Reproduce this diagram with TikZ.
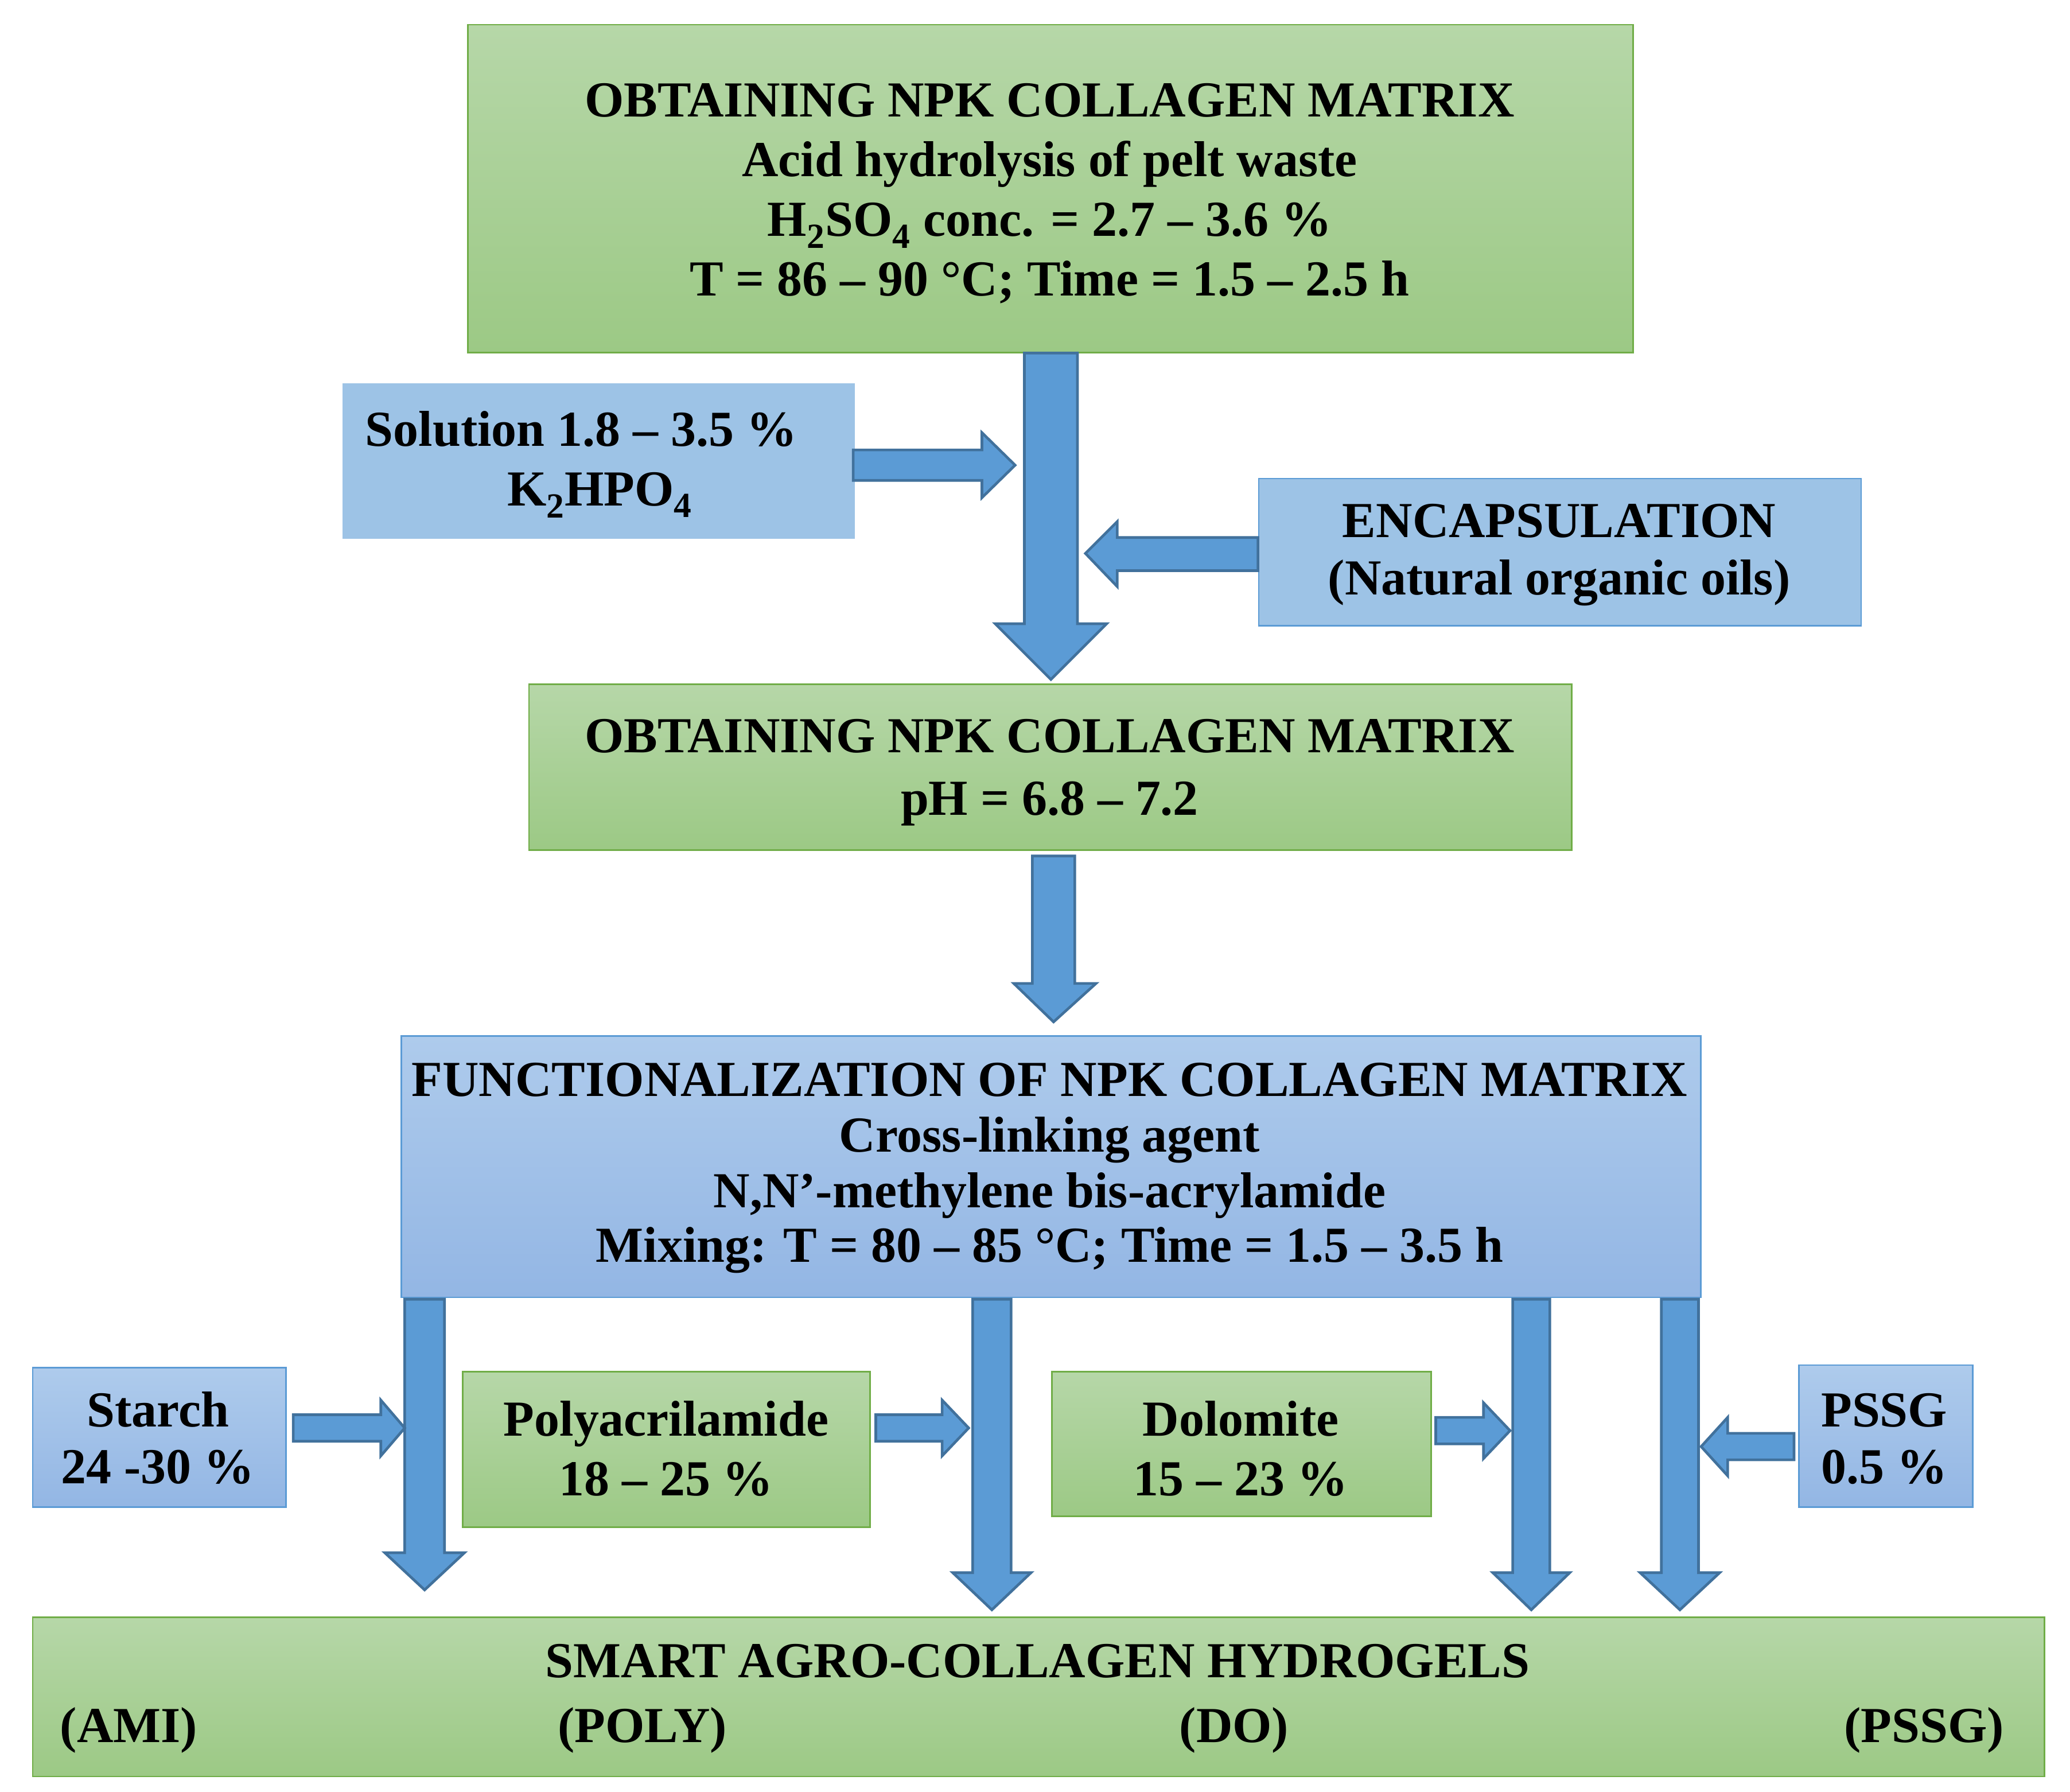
\documentclass[tikz,border=0pt]{standalone}
\usepackage{fontspec}
\setmainfont{Liberation Serif}
\begin{document}
\begin{tikzpicture}[x=1pt,y=-1pt,
 gbox/.style={draw=gbord, line width=1.2pt, top color=gtop, bottom color=gbot, inner sep=0pt},
 bbox/.style={draw=bbord, line width=1.2pt, top color=btop, bottom color=bbot, inner sep=0pt},
 lbox/.style={draw=bbord, line width=1.2pt, fill=lblue, inner sep=0pt},
 txt/.style={font=\fontsize{38}{44}\selectfont\bfseries, inner sep=0pt, anchor=base},
 arr/.style={fill=afill, draw=abord, line width=2pt, line join=miter}]
\definecolor{gbord}{HTML}{70AD47}
\definecolor{gtop}{HTML}{B6D7A8}
\definecolor{gbot}{HTML}{9CC985}
\definecolor{bbord}{HTML}{5B9BD5}
\definecolor{btop}{HTML}{AECBEC}
\definecolor{bbot}{HTML}{93B6E4}
\definecolor{lblue}{HTML}{9DC3E6}
\definecolor{afill}{HTML}{5B9BD5}
\definecolor{abord}{HTML}{41719C}
\useasboundingbox (0,0) rectangle (1560,1350);
\newcommand\downarr[7]{\draw[arr] (#1,#3)--(#2,#3)--(#2,#4)--(#6,#4)--({(#1+#2)/2},#7)--(#5,#4)--(#1,#4)--cycle;}
\newcommand\rightarr[7]{\draw[arr] (#1,#4)--(#2,#4)--(#2,#6)--(#3,{(#4+#5)/2})--(#2,#7)--(#2,#5)--(#1,#5)--cycle;}

\node[gbox, minimum width=878, minimum height=247, anchor=north west] (b1) at (352,18) {};
\node[txt] (t1a) at (791,88) {OBTAINING NPK COLLAGEN MATRIX};
\node[txt] (t1b) at (791,133) {Acid hydrolysis of pelt waste};
\node[txt] (t1c) at (791,178) {H\textsubscript{2}SO\textsubscript{4} conc. = 2.7 – 3.6 \%};
\node[txt] (t1d) at (791,223) {T = 86 – 90 °C; Time = 1.5 – 2.5 h};

\downarr{772}{812}{266}{470}{750}{834}{512}

\node[lbox, draw=lblue, minimum width=385, minimum height=116, anchor=north west] (sol) at (258,289) {};
\node[txt] (ts1) at (438,336) {Solution 1.8 – 3.5 \%};
\node[txt] (ts2) at (452,381) {K\textsubscript{2}HPO\textsubscript{4}};
\rightarr{643}{740}{765}{339}{362}{326}{375}

\node[lbox, minimum width=454, minimum height=111, anchor=north west] (enc) at (948,360) {};
\node[txt] (te1) at (1175,405) {ENCAPSULATION};
\node[txt] (te2) at (1175,448) {(Natural organic oils)};
\draw[arr] (948,405)--(842,405)--(842,393)--(818,417)--(842,442)--(842,430)--(948,430)--cycle;

\node[gbox, minimum width=786, minimum height=125, anchor=north west] (b2) at (398,515) {};
\node[txt] (t2a) at (791,567) {OBTAINING NPK COLLAGEN MATRIX};
\node[txt] (t2b) at (791,614) {pH = 6.8 – 7.2};
\downarr{778}{810}{645}{741}{764}{826}{770}

\node[bbox, minimum width=979, minimum height=197, anchor=north west] (b3) at (302,780) {};
\node[txt] (t3a) at (791,826) {FUNCTIONALIZATION OF NPK COLLAGEN MATRIX};
\node[txt] (t3b) at (791,868) {Cross-linking agent};
\node[txt] (t3c) at (791,910) {N,N’-methylene bis-acrylamide};
\node[txt] (t3d) at (791,951) {Mixing: T = 80 – 85 °C; Time = 1.5 – 3.5 h};

\downarr{305}{335}{979}{1170}{290}{350}{1198}
\downarr{733}{762}{979}{1185}{718}{777}{1213}
\downarr{1140}{1168}{979}{1185}{1125}{1183}{1213}
\downarr{1252}{1280}{979}{1185}{1236}{1296}{1213}

\node[bbox, minimum width=191, minimum height=105, anchor=north west] (st) at (24,1030) {};
\node[txt] (tst1) at (119,1075) {Starch};
\node[txt] (tst2) at (119,1118) {24 -30 \%};
\rightarr{221}{287}{305}{1066}{1086}{1055}{1097}

\node[gbox, minimum width=307, minimum height=117, anchor=north west] (po) at (348,1033) {};
\node[txt] (tpo1) at (502,1082) {Polyacrilamide};
\node[txt] (tpo2) at (502,1127) {18 – 25 \%};
\rightarr{660}{710}{730}{1066}{1086}{1055}{1097}

\node[gbox, minimum width=286, minimum height=109, anchor=north west] (do) at (792,1033) {};
\node[txt] (tdo1) at (935,1082) {Dolomite};
\node[txt] (tdo2) at (935,1127) {15 – 23 \%};
\rightarr{1082}{1118}{1138}{1068}{1088}{1057}{1099}

\node[bbox, minimum width=131, minimum height=107, anchor=north west] (ps) at (1355,1028) {};
\node[txt] (tps1) at (1420,1075) {PSSG};
\node[txt] (tps2) at (1420,1118) {0.5 \%};
\draw[arr] (1352,1080)--(1302,1080)--(1302,1068)--(1282,1090)--(1302,1112)--(1302,1100)--(1352,1100)--cycle;

\node[gbox, minimum width=1516, minimum height=120, anchor=north west] (b4) at (24,1218) {};
\node[txt] (t4) at (782,1264) {SMART AGRO-COLLAGEN HYDROGELS};
\node[txt] (l1) at (97,1313) {(AMI)};
\node[txt] (l2) at (484,1313) {(POLY)};
\node[txt] (l3) at (930,1313) {(DO)};
\node[txt] (l4) at (1450,1313) {(PSSG)};
\end{tikzpicture}
\end{document}
